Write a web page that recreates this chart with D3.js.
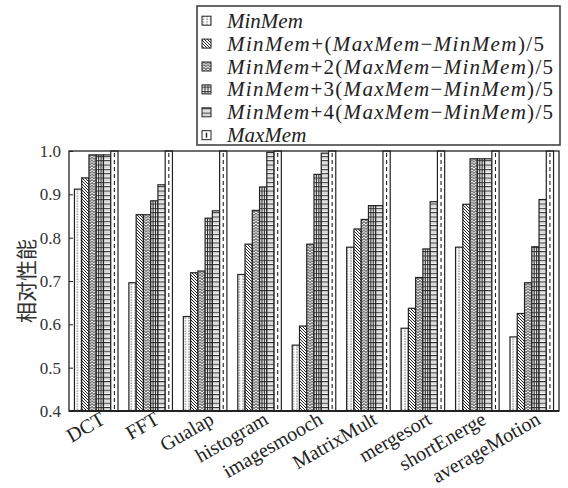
<!DOCTYPE html>
<html>
<head>
<meta charset="utf-8">
<script src="https://cdn.jsdelivr.net/npm/d3@7"></script>
<style>
  html, body { margin: 0; padding: 0; background: #fff; }
  svg { display: block; }
</style>
</head>
<body>
<svg id="chart" width="568" height="488"></svg>
<script>
// Benchmarks on the x axis
const categories = ["DCT", "FFT", "Gualap", "histogram", "imagesmooch",
                    "MatrixMult", "mergesort", "shortEnerge", "averageMotion"];

// Relative performance per memory budget
const minMem   = [0.912, 0.696, 0.618, 0.715, 0.552, 0.778, 0.591, 0.778, 0.571];
const mem1of5  = [0.938, 0.853, 0.719, 0.785, 0.596, 0.820, 0.637, 0.877, 0.625];
const mem2of5  = [0.991, 0.853, 0.723, 0.863, 0.785, 0.842, 0.708, 0.982, 0.696];
const mem3of5  = [0.991, 0.885, 0.845, 0.917, 0.946, 0.874, 0.774, 0.982, 0.779];
const mem4of5  = [0.991, 0.922, 0.862, 0.997, 0.995, 0.874, 0.883, 0.982, 0.888];
const maxMem   = [1.000, 1.000, 1.000, 1.000, 1.000, 1.000, 1.000, 1.000, 1.000];

const seriesValues = [minMem, mem1of5, mem2of5, mem3of5, mem4of5, maxMem];

// Legend labels: [text, italic?] pieces
const legendLabels = [
  [["MinMem", true]],
  [["MinMem", true], ["+(", false], ["MaxMem", true], ["\u2212", false], ["MinMem", true], [")/5", false]],
  [["MinMem", true], ["+2(", false], ["MaxMem", true], ["\u2212", false], ["MinMem", true], [")/5", false]],
  [["MinMem", true], ["+3(", false], ["MaxMem", true], ["\u2212", false], ["MinMem", true], [")/5", false]],
  [["MinMem", true], ["+4(", false], ["MaxMem", true], ["\u2212", false], ["MinMem", true], [")/5", false]],
  [["MaxMem", true]]
];
const legendWidths = [null, 317, 326, 326, 326, null];

const yTicks = [0.4, 0.5, 0.6, 0.7, 0.8, 0.9, 1.0];
const yTickLabels = ["0.4", "0.5", "0.6", "0.7", "0.8", "0.9", "1.0"];
const yTitle = "相对性能";

const svg = d3.select("#chart");
const plot = { left: 69, right: 559, top: 151, bottom: 411 };
const serif = "'Liberation Serif', 'DejaVu Serif', serif";
const ink = "#222";

// ---------- fill patterns ----------
const defs = svg.append("defs");

// sparse dots
const pDots = defs.append("pattern").attr("id", "p0")
  .attr("patternUnits", "userSpaceOnUse").attr("width", 3.6).attr("height", 2.6);
pDots.append("rect").attr("width", 3.6).attr("height", 2.6).attr("fill", "#fff");
pDots.append("rect").attr("x", 1.3).attr("y", 0.4).attr("width", 1).attr("height", 1.2).attr("fill", "#444");

// dense back-diagonal hatching
const pDiag = defs.append("pattern").attr("id", "p1")
  .attr("patternUnits", "userSpaceOnUse").attr("width", 3).attr("height", 3);
pDiag.append("rect").attr("width", 3).attr("height", 3).attr("fill", "#fff");
pDiag.append("path").attr("d", "M-1,-1 L4,4 M-1,2 L1,4 M2,-1 L4,1")
  .attr("stroke", "#222").attr("stroke-width", 1);

// zigzag
const pZig = defs.append("pattern").attr("id", "p2")
  .attr("patternUnits", "userSpaceOnUse").attr("width", 4).attr("height", 2.8);
pZig.append("rect").attr("width", 4).attr("height", 2.8).attr("fill", "#fff");
pZig.append("path").attr("d", "M0,0.4 L2,2.4 L4,0.4")
  .attr("fill", "none").attr("stroke", "#444").attr("stroke-width", 1);

// horizontal rules (shared by the grid and ruled bars)
["p3", "p4"].forEach(id => {
  const p = defs.append("pattern").attr("id", id)
    .attr("patternUnits", "userSpaceOnUse").attr("width", 20).attr("height", 4.33);
  p.append("rect").attr("width", 20).attr("height", 4.33).attr("fill", "#fff");
  p.append("rect").attr("y", 0).attr("width", 20).attr("height", 1.1).attr("fill", "#2a2a2a");
  p.append("rect").attr("y", 2.2).attr("width", 20).attr("height", 0.9).attr("fill", "#bdbdbd");
});

// plain white
const pPlain = defs.append("pattern").attr("id", "p5")
  .attr("patternUnits", "userSpaceOnUse").attr("width", 4).attr("height", 4);
pPlain.append("rect").attr("width", 4).attr("height", 4).attr("fill", "#fff");

// ---------- scales ----------
const x0 = d3.scaleBand().domain(categories)
  .range([plot.left, plot.right]).paddingInner(0.2).paddingOuter(0.1);
const x1 = d3.scaleBand().domain(d3.range(seriesValues.length))
  .range([0, x0.bandwidth()]);
const y = d3.scaleLinear().domain([0.4, 1.0]).range([plot.bottom, plot.top]);

// ---------- bars ----------
const barData = [];
categories.forEach((c, ci) => {
  seriesValues.forEach((vals, si) => {
    barData.push({ cat: c, s: si, v: vals[ci] });
  });
});

const bars = svg.append("g");
bars.selectAll("rect").data(barData).join("rect")
  .attr("x", d => x0(d.cat) + x1(d.s))
  .attr("y", d => y(d.v))
  .attr("width", x1.bandwidth())
  .attr("height", d => y(0.4) - y(d.v))
  .attr("fill", d => `url(#p${d.s})`)
  .attr("stroke", ink).attr("stroke-width", 1.2);

// vertical rules inside the grid-filled bars
const gridBars = barData.filter(d => d.s === 3);
bars.selectAll("line.grid").data(gridBars.flatMap(d => [1 / 3, 2 / 3].map(f => ({ ...d, f }))))
  .join("line").attr("class", "grid")
  .attr("x1", d => x0(d.cat) + x1(d.s) + x1.bandwidth() * d.f)
  .attr("x2", d => x0(d.cat) + x1(d.s) + x1.bandwidth() * d.f)
  .attr("y1", d => y(d.v)).attr("y2", y(0.4))
  .attr("stroke", "#2a2a2a").attr("stroke-width", 1);

// dashed centre line inside MaxMem bars
const maxBars = barData.filter(d => d.s === 5);
bars.selectAll("line.dash").data(maxBars).join("line").attr("class", "dash")
  .attr("x1", d => x0(d.cat) + x1(d.s) + x1.bandwidth() / 2)
  .attr("x2", d => x0(d.cat) + x1(d.s) + x1.bandwidth() / 2)
  .attr("y1", d => y(d.v) + 2).attr("y2", y(0.4))
  .attr("stroke", "#222").attr("stroke-width", 1.1).attr("stroke-dasharray", "4,3");

// ---------- axes ----------
const yAxis = svg.append("g").attr("transform", `translate(${plot.left},0)`)
  .call(d3.axisLeft(y).tickValues(yTicks)
    .tickFormat((d, i) => yTickLabels[i]).tickSizeInner(-4).tickSizeOuter(0).tickPadding(8));
yAxis.select(".domain").remove();
yAxis.selectAll(".tick line").attr("stroke", ink).attr("stroke-width", 1);
yAxis.selectAll(".tick text").attr("font-family", serif).attr("font-size", 17).attr("fill", "#333");

// plot frame
svg.append("rect")
  .attr("x", plot.left).attr("y", plot.top)
  .attr("width", plot.right - plot.left).attr("height", plot.bottom - plot.top)
  .attr("fill", "none").attr("stroke", ink).attr("stroke-width", 1.3);
svg.append("line")
  .attr("x1", plot.left).attr("x2", plot.right)
  .attr("y1", plot.bottom).attr("y2", plot.bottom)
  .attr("stroke", ink).attr("stroke-width", 2);

// rotated category labels, right end just past each group's centre
const xAxis = svg.append("g").attr("transform", `translate(0,${plot.bottom})`)
  .call(d3.axisBottom(x0).tickSize(0).tickPadding(0));
xAxis.select(".domain").remove();
xAxis.selectAll(".tick text")
  .attr("font-family", serif).attr("font-size", 20).attr("fill", "#222")
  .attr("text-anchor", "end")
  .attr("dy", null).attr("y", 0)
  .attr("transform", "translate(10,12) rotate(-30)");

// y title
svg.append("text")
  .attr("transform", `translate(34,${(plot.top + plot.bottom) / 2}) rotate(-90)`)
  .attr("text-anchor", "middle")
  .attr("font-family", "'Noto Sans CJK SC', sans-serif")
  .attr("font-size", 21).attr("fill", "#333")
  .text(yTitle);

// ---------- legend ----------
const lg = svg.append("g");
lg.append("rect").attr("x", 197).attr("y", 6).attr("width", 363).attr("height", 139)
  .attr("fill", "#fff").attr("stroke", "#444").attr("stroke-width", 1.6);

const rowY = d => 20.7 + d * 22.9;
legendLabels.forEach((parts, i) => {
  const cy = rowY(i);
  lg.append("rect").attr("x", 202).attr("y", cy - 4.5).attr("width", 9).attr("height", 9)
    .attr("fill", `url(#p${i})`).attr("stroke", ink).attr("stroke-width", 1);
  if (i === 3) {
    [1 / 3, 2 / 3].forEach(f => lg.append("line")
      .attr("x1", 202 + 9 * f).attr("x2", 202 + 9 * f)
      .attr("y1", cy - 4.5).attr("y2", cy + 4.5).attr("stroke", "#333"));
  }
  if (i === 5) {
    lg.append("line").attr("x1", 206.5).attr("x2", 206.5)
      .attr("y1", cy - 2.5).attr("y2", cy + 2.5).attr("stroke", "#222").attr("stroke-width", 1.4);
  }
  const t = lg.append("text").attr("x", 227).attr("y", cy + 7)
    .attr("font-family", serif).attr("font-size", 21).attr("fill", "#222");
  parts.forEach(([s, it]) => {
    t.append("tspan").attr("font-style", it ? "italic" : "normal").text(s);
  });
  if (legendWidths[i]) {
    t.attr("textLength", legendWidths[i]).attr("lengthAdjust", "spacing");
  }
});
</script>
</body>
</html>
